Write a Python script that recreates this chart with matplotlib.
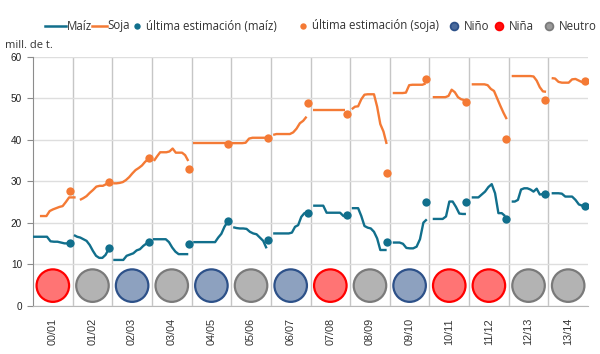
import numpy as np
import matplotlib
matplotlib.use("Agg")
import matplotlib.pyplot as plt
from matplotlib.lines import Line2D

# ---------------- data ----------------
seasons = ['00/01', '01/02', '02/03', '03/04', '04/05', '05/06', '06/07',
           '07/08', '08/09', '09/10', '10/11', '11/12', '12/13', '13/14']
enso = ['Niña', 'Neutro', 'Niño', 'Neutro', 'Niño', 'Neutro', 'Niño',
        'Niña', 'Neutro', 'Niño', 'Niña', 'Niña', 'Neutro', 'Neutro']

# month (within the season) of the first and last estimate of each season
maiz_first = [0.0, 0.4, 0.3, 0.3, 0.5, 0.6, 0.7, 0.8, 0.5, 0.9, 1.0, 0.8, 0.9, 1.0]
maiz_last = [10.6, 10.9, 10.4, 11.0, 10.9, 10.7, 11.1, 11.0, 11.05, 11.2, 11.05, 10.9, 11.3, 11.3]
maiz_est = [
    [16.6, 16.6, 16.6, 16.6, 16.6, 15.5, 15.4, 15.4, 15.2, 15.0, 15.0],
    [17.0, 16.6, 16.4, 16.0, 15.6, 14.6, 13.2, 12.0, 11.5, 11.5, 12.2, 13.6],
    [11.0, 11.0, 11.0, 11.0, 12.0, 12.3, 12.6, 13.3, 13.6, 14.4, 15.0],
    [16.0, 16.0, 16.0, 16.0, 16.0, 15.3, 14.0, 13.0, 12.4, 12.4, 12.4, 12.4],
    [15.3, 15.3, 15.3, 15.3, 15.3, 15.3, 15.3, 15.3, 16.4, 17.3, 19.0, 20.2],
    [18.9, 18.7, 18.6, 18.6, 18.5, 17.8, 17.4, 17.2, 16.4, 15.6, 13.8],
    [17.4, 17.4, 17.4, 17.4, 17.4, 17.4, 17.6, 19.0, 19.4, 21.4, 22.3, 22.4],
    [24.1, 24.1, 24.1, 24.1, 22.4, 22.4, 22.4, 22.4, 22.4, 21.6, 21.8],
    [23.5, 23.5, 23.5, 21.6, 19.2, 18.8, 18.6, 17.8, 16.2, 13.4, 13.4, 13.4],
    [15.2, 15.2, 15.2, 14.9, 13.9, 13.8, 13.8, 14.2, 16.0, 20.0, 20.8],
    [20.9, 20.9, 20.9, 20.9, 21.5, 25.1, 25.1, 23.8, 22.2, 22.1, 22.1],
    [26.1, 26.1, 26.1, 26.8, 27.5, 28.6, 29.3, 27.1, 22.3, 22.3, 21.6],
    [25.1, 25.1, 25.5, 28.0, 28.3, 28.3, 28.0, 27.5, 28.2, 26.8, 26.9, 26.9],
    [27.1, 27.1, 27.1, 27.0, 26.3, 26.3, 26.3, 25.5, 24.4, 24.1, 24.1],
]
maiz_final = [15.2, 14.0, 15.4, 14.9, 20.3, 15.7, 22.4, 21.9, 15.3, 24.9, 25.1, 20.9, 26.9, 24.1]

soja_first = [2.1, 2.2, 0.3, 0.6, 0.5, 0.2, 0.7, 0.8, 0.5, 0.9, 1.0, 0.8, 0.9, 1.0]
soja_last = [12.9, 11.15, 10.9, 11.0, 11.1, 10.6, 10.8, 10.5, 11.05, 10.85, 10.55, 11.4, 11.3, 11.3]
soja_est = [
    [21.6, 21.6, 21.6, 22.8, 23.2, 23.5, 23.8, 24.0, 25.0, 26.1, 26.1, 26.1],
    [25.5, 25.9, 26.4, 27.2, 27.9, 28.7, 28.9, 28.9, 29.3, 29.8],
    [29.5, 29.5, 29.6, 29.8, 30.3, 31.0, 31.9, 32.7, 33.2, 33.8, 34.7, 35.3],
    [34.9, 36.0, 37.0, 37.0, 37.0, 37.2, 37.9, 36.9, 36.9, 36.9, 36.3, 34.9],
    [39.2, 39.2, 39.2, 39.2, 39.2, 39.2, 39.2, 39.2, 39.2, 39.2, 39.2, 39.2],
    [39.2, 39.2, 39.2, 39.2, 39.3, 40.3, 40.5, 40.5, 40.5, 40.5, 40.5],
    [41.2, 41.4, 41.4, 41.4, 41.4, 41.4, 41.8, 42.7, 44.0, 44.6, 45.6],
    [47.2, 47.2, 47.2, 47.2, 47.2, 47.2, 47.2, 47.2, 47.2, 47.2, 47.2],
    [47.4, 48.0, 48.1, 49.8, 50.9, 51.0, 51.0, 51.0, 48.0, 43.8, 42.0, 39.0],
    [51.3, 51.3, 51.3, 51.3, 51.4, 53.2, 53.3, 53.3, 53.3, 53.3, 53.6],
    [50.3, 50.3, 50.3, 50.3, 50.3, 50.6, 52.1, 51.5, 50.3, 49.8, 49.6],
    [53.4, 53.4, 53.4, 53.4, 53.4, 53.2, 52.3, 51.8, 50.0, 48.2, 46.5, 45.0],
    [55.4, 55.4, 55.4, 55.4, 55.4, 55.4, 55.4, 55.3, 54.3, 52.7, 51.7, 51.6],
    [54.9, 54.8, 54.0, 53.8, 53.8, 53.8, 54.6, 54.7, 54.3, 53.9, 54.1],
]
soja_final = [27.7, 29.9, 35.5, 33.0, 39.0, 40.5, 48.8, 46.3, 31.9, 54.6, 49.1, 40.2, 49.5, 54.1]

final_month = 11.1   # month of the last estimate within a season
y_ticks = [0, 10, 20, 30, 40, 50, 60]

# ---------------- styles ----------------
C_MAIZ = '#116f8c'
C_SOJA = '#f47a35'
ENSO_FILL = {'Niño': '#8da1bf', 'Niña': '#ff7474', 'Neutro': '#b3b3b3'}
ENSO_EDGE = {'Niño': '#2d5189', 'Niña': '#ff0000', 'Neutro': '#7a7a7a'}
LEG_FILL = {'Niño': '#4a6a9c', 'Niña': '#ff1010', 'Neutro': '#9a9a9a'}
LEG_EDGE = {'Niño': '#2d5189', 'Niña': '#ff0000', 'Neutro': '#7a7a7a'}

W, H = 600, 354
fig = plt.figure(figsize=(W / 100, H / 100), dpi=100)
ax = fig.add_axes([33 / W, 1 - 305.5 / H, (588 - 33) / W, (305.5 - 57) / H])
n = len(seasons)
ax.set_xlim(0, 12 * n)
ax.set_ylim(0, 60)

for i in range(n):
    base = 12 * i
    xm = base + np.linspace(maiz_first[i], maiz_last[i], len(maiz_est[i]))
    ax.plot(xm, maiz_est[i], color=C_MAIZ, lw=1.7, zorder=4, solid_capstyle='butt')
    xs = base + np.linspace(soja_first[i], soja_last[i], len(soja_est[i]))
    ax.plot(xs, soja_est[i], color=C_SOJA, lw=1.7, zorder=4, solid_capstyle='butt')

fx = 12 * np.arange(n) + final_month
ax.plot(fx, maiz_final, 'o', color=C_MAIZ, ms=6, zorder=5, mec='none')
ax.plot(fx, soja_final, 'o', color=C_SOJA, ms=6, zorder=5, mec='none')

centers = 12 * np.arange(n) + 6
ax.scatter(centers, [4.8] * n, s=548,
           c=[ENSO_FILL[e] for e in enso], edgecolors=[ENSO_EDGE[e] for e in enso],
           linewidths=1.6, zorder=3)

# axes styling
for side in ['top', 'right']:
    ax.spines[side].set_visible(False)
ax.spines['left'].set_color('#8c8c8c')
ax.spines['bottom'].set_color('#b8b8b8')
ax.set_yticks(y_ticks)
ax.set_yticklabels([str(v) for v in y_ticks])
ax.tick_params(axis='y', length=4.3, color='#8c8c8c', pad=3.5, labelsize=7.2, labelcolor='#222222')
ax.set_xticks(centers)
ax.set_xticklabels(seasons, rotation=90, fontsize=7.8, color='#333333')
ax.tick_params(axis='x', length=0, pad=9)
ax.set_xticks(12 * np.arange(1, n), minor=True)
ax.tick_params(axis='x', which='minor', length=0)
ax.grid(axis='x', which='minor', color='#c6c6c6', lw=1)
ax.grid(axis='y', which='major', color='#dedede', lw=1)
ax.grid(axis='x', which='major', visible=False)
ax.set_axisbelow(True)
for lab in ax.get_xticklabels() + ax.get_yticklabels():
    lab.set_fontfamily('Liberation Sans')

# unit label
fig.text(5 / W, 1 - 45 / H, 'mill. de t.', fontsize=8, family='Open Sans',
         color='#333333', va='center', ha='left')

# manual legend (handle positions in pixels)
ly = 1 - 26 / H
FS = 8.3
items = [('line', (45, 66), C_MAIZ, None, 'Maíz'),
         ('line', (92, 107), C_SOJA, None, 'Soja'),
         ('dot', (137,), C_MAIZ, None, 'última estimación (maíz)'),
         ('dot', (303,), C_SOJA, None, 'última estimación (soja)'),
         ('circ', (454,), LEG_FILL['Niño'], LEG_EDGE['Niño'], 'Niño'),
         ('circ', (499,), LEG_FILL['Niña'], LEG_EDGE['Niña'], 'Niña'),
         ('circ', (549,), LEG_FILL['Neutro'], LEG_EDGE['Neutro'], 'Neutro')]
for kind, pos, col, edge, label in items:
    if kind == 'line':
        fig.add_artist(Line2D([pos[0] / W, pos[1] / W], [ly, ly], color=col, lw=1.8))
        tx = pos[1] + 0.5
    elif kind == 'dot':
        fig.add_artist(Line2D([pos[0] / W], [ly], marker='o', ms=4.6, color=col, mec='none'))
        tx = pos[0] + 9.5
    else:
        fig.add_artist(Line2D([pos[0] / W], [ly], marker='o', ms=5.6, mfc=col, mec=edge, mew=1.3))
        tx = pos[0] + 9.5
    fig.text(tx / W, ly, label, fontsize=FS, family='Open Sans', color='#333333',
             va='center', ha='left')

fig.savefig('out.png', dpi=100)
